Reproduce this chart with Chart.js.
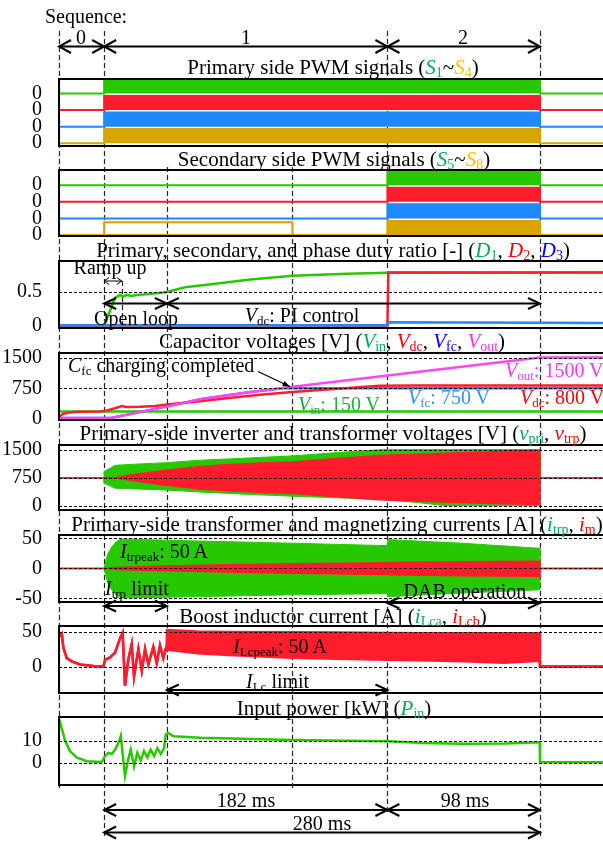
<!DOCTYPE html>
<html>
<head>
<meta charset="utf-8">
<title>Start-up sequence waveforms</title>
<script src="https://cdn.jsdelivr.net/npm/chart.js@4.4.1/dist/chart.umd.min.js"></script>
<style>
  html, body { margin: 0; padding: 0; background: #fff; }
  #fig { position: relative; width: 603px; height: 841px; overflow: hidden;
         font-family: "Liberation Serif", "Times New Roman", serif; color: #000; }
  #fig canvas { position: absolute; left: 0; }
  .t { position: absolute; z-index: 3; white-space: nowrap; font-size: 20px; line-height: 1;
       transform: translate(-50%, -50%); }
  .t.l { transform: translate(0, -50%); }
  .t.h { font-size: 21px; }
  .t sub { font-size: 13px; line-height: 0; vertical-align: -3px; }
  .t.h sub { font-size: 14px; }
  .g { color: #00b050; } .y { color: #ffc000; } .r { color: #ff0000; }
  .b { color: #0000ff; } .m { color: #ff33ff; } .lb { color: #2f8fff; } .vg { color: #1fae3a; }
</style>
</head>
<body>
<div id="fig">
  <canvas id="under" width="603" height="841" style="top:0;z-index:0"></canvas>
  <canvas id="over" width="603" height="841" style="top:0;z-index:2"></canvas>

  <div class="t" style="left:86px;top:16px">Sequence:</div>
  <div class="t" style="left:81px;top:37px">0</div>
  <div class="t" style="left:246px;top:37px">1</div>
  <div class="t" style="left:463px;top:37px">2</div>

  <div class="t h" style="left:333px;top:67px">Primary side PWM signals (<i class="g">S</i><sub class="g">1</sub>~<i class="y">S</i><sub class="y">4</sub>)</div>
  <div class="t h" style="left:334px;top:159px">Secondary side PWM signals (<i class="g">S</i><sub class="g">5</sub>~<i class="y">S</i><sub class="y">8</sub>)</div>
  <div class="t h" style="left:333px;top:250px">Primary, secondary, and phase duty ratio [-] (<i class="g">D</i><sub class="g">1</sub>, <i class="r">D</i><sub class="r">2</sub>, <i class="b">D</i><sub class="b">3</sub>)</div>
  <div class="t h" style="left:332px;top:341px">Capacitor voltages [V] (<i class="g">V</i><sub class="g">in</sub>, <i class="r">V</i><sub class="r">dc</sub>, <i class="b">V</i><sub class="b">fc</sub>, <i class="m">V</i><sub class="m">out</sub>)</div>
  <div class="t h" style="left:333px;top:433px">Primary-side inverter and transformer voltages [V] (<i class="g">v</i><sub class="g">pri</sub>, <i class="r">v</i><sub class="r">trp</sub>)</div>
  <div class="t h" style="left:337px;top:524px">Primary-side transformer and magnetizing currents [A] (<i class="g">i</i><sub class="g">trp</sub>, <i class="r">i</i><sub class="r">m</sub>)</div>
  <div class="t h" style="left:333px;top:616px">Boost inductor current [A] (<i class="g">i</i><sub class="g">Lca</sub>, <i class="r">i</i><sub class="r">Lcb</sub>)</div>
  <div class="t h" style="left:334px;top:708px">Input power [kW] (<i class="g">P</i><sub class="g">in</sub>)</div>

  <div class="t" style="left:110px;top:267px">Ramp up</div>
  <div class="t" style="left:136px;top:318px">Open loop</div>
  <div class="t" style="left:302px;top:315px"><i>V</i><sub>dc</sub>: PI control</div>

  <div class="t l" style="left:68px;top:365px"><i>C</i><sub>fc</sub> charging completed</div>
  <div class="t l m" style="left:505px;top:370px"><i>V</i><sub>out</sub>: 1500 V</div>
  <div class="t l lb" style="left:408px;top:397px"><i>V</i><sub>fc</sub>: 750 V</div>
  <div class="t l r" style="left:520px;top:397px"><i>V</i><sub>dc</sub>: 800 V</div>
  <div class="t l vg" style="left:298px;top:404px"><i>V</i><sub>in</sub>: 150 V</div>

  <div class="t l" style="left:120px;top:551px"><i>I</i><sub>trpeak</sub>: 50 A</div>
  <div class="t l" style="left:105px;top:588px"><i>I</i><sub>trp</sub> limit</div>
  <div class="t" style="left:465px;top:591px">DAB operation</div>

  <div class="t l" style="left:233px;top:646px"><i>I</i><sub>Lcpeak</sub>: 50 A</div>
  <div class="t l" style="left:246px;top:681px"><i>I</i><sub>Lc</sub> limit</div>

  <div class="t" style="left:246px;top:800px">182 ms</div>
  <div class="t" style="left:465px;top:800px">98 ms</div>
  <div class="t" style="left:322px;top:823px">280 ms</div>
</div>

<script>
// time axis in ms, 0 = start of sequence 1
const T_MIN = -29, T_MAX = 320.5;
const seqBounds = [-29, 0, 182, 280];
const rampEnd = 11.3;      // end of ramp up
const piStart = 40.3;      // open loop -> Vdc PI control
const cfcDone = 121;       // Cfc charging completed

// PWM envelopes (1 = switching / high)
const priPwmTime = [-29, 0, 0, 280, 280, 320.5];
const priPwmOn   = [0, 0, 1, 1, 0, 0];
const secPwmTime = [-29, 182, 182, 280, 280, 320.5];
const secPwmOn   = [0, 0, 1, 1, 0, 0];
const s8Time     = [-29, 0, 0, 121, 121, 320.5];
const s8Level    = [0, 0, 1, 1, 0, 0];

// duty ratios
const d1Time = [-29, 0, 3.5, 7, 10.2, 12.3, 14.4, 17.6, 20.8, 25, 33.6, 40.3, 52, 71.5, 94, 121, 155.7, 182, 320.5];
const d1     = [0, 0, 0.2, 0.41, 0.455, 0.43, 0.455, 0.44, 0.455, 0.46, 0.48, 0.5, 0.57, 0.62, 0.685, 0.74, 0.77, 0.785, 0.79];
const d2Time = [-29, 182, 182.6, 320.5];
const d2     = [0, 0, 0.79, 0.79];
const d3Time = [-29, 182, 183, 230, 280, 320.5];
const d3     = [0.005, 0.005, 0.05, 0.045, 0.04, 0.037];

// capacitor voltages [V]
const vinTime  = [-29, 320.5];
const vin      = [180, 180];
const vdcTime  = [-29, -28, -26.5, -23.5, -17, -2.5, 1.3, 7, 11.5, 14, 23, 33, 40.5, 61.6, 80, 100, 121, 150, 177, 200, 280, 320.5];
const vdc      = [30, 80, 120, 150, 175, 180, 200, 260, 316, 293, 298, 316, 350, 430, 510, 590, 660, 740, 810, 820, 820, 815];
const vfcTime  = [-29, 4.4, 40, 61.6, 94, 115, 320.5];
const vfc      = [25, 25, 300, 480, 660, 750, 750];
const voutTime = [-29, 4.4, 40, 61.6, 94, 121, 280, 320.5];
const vout     = [25, 25, 300, 480, 660, 785, 1500, 1500];

// inverter / transformer voltage envelopes [V]
const vEnvTime  = [-29, 0, 0, 7, 20, 40, 62, 80, 100, 121, 150, 177, 200, 220, 250, 280, 280, 320.5];
const vpriUpper = [750, 750, 915, 1079, 1110, 1150, 1217, 1250, 1290, 1330, 1420, 1495, 1500, 1500, 1500, 1500, 750, 750];
const vpriLower = [750, 750, 600, 470, 450, 420, 365, 330, 290, 255, 210, 170, 90, 0, 0, 0, 750, 750];
const vtrpUpper = [750, 750, 750, 750, 840, 950, 1050, 1100, 1140, 1170, 1260, 1340, 1375, 1400, 1440, 1480, 750, 750];
const vtrpLower = [750, 750, 750, 750, 660, 550, 450, 400, 360, 330, 240, 160, 125, 100, 60, 30, 750, 750];

// transformer / magnetizing current envelopes [A]
const iEnvTime  = [-29, 0, 1, 2.5, 5, 8, 11, 40, 80, 121, 181.8, 182.3, 230, 279.8, 280, 320.5];
const itrpUpper = [0, 0, 12, 25, 36, 45, 49, 47, 44.5, 42, 38, 48, 42, 33.5, 0, 0];
const itrpLower = [0, 0, -12, -25, -36, -45, -49, -48, -46, -44, -42, -47, -41, -35.6, 0, 0];
const imUpper   = [0, 0, 0, 0.5, 1, 1.5, 2, 4, 6, 8, 9.5, 10, 11, 12, 0, 0];
const imLower   = [0, 0, 0, -0.5, -1, -1.5, -2, -4, -6, -8, -10, -10.5, -12, -13, 0, 0];

// boost inductor current [A]
const iLcTime  = [-29, -28.3, -27.2, -26.2, -24, -20.8, -15.5, -6.9, -0.5, 0.6, 3.8, 7, 10.2, 11.9, 13.4, 15.5, 17.7, 19.2, 22, 24.2, 26.3, 28.4, 31.6, 33.8, 35.9, 38, 40.2, 40.4, 60, 80, 121, 150, 182, 210, 232, 257, 279.8, 280, 320.5];
const iLcUpper = [42, 44.6, 47, 27, 12, 7.4, 3, 0.8, 0, 9.6, 13, 20, 40, 48, -27.6, 9.6, 32, -14.5, 25, -5.7, 25, 3, 28, 5, 30, 12, 30, 52, 50, 49.5, 49, 48.5, 48, 47.5, 47.5, 47.5, 47.5, 0, 0];
const iLcLower = [42, 44.6, 47, 27, 12, 7.4, 3, 0.8, 0, 9.6, 13, 20, 40, 48, -27.6, 9.6, 32, -14.5, 25, -5.7, 25, 3, 28, 5, 30, 12, 30, 24, 19, 16.5, 12.6, 11, 9.6, 8.5, 7.4, 5.3, 8.3, 0, 0];

// input power [kW]
const pinTime = [-29, -28.3, -27.2, -25.1, -21.9, -17.6, -11.2, -1.5, 0.6, 2.7, 4.9, 7, 9.8, 10.7, 13.4, 15.5, 17.1, 19.2, 21.3, 23.5, 25.6, 27.8, 29.9, 32.1, 34.2, 36.4, 38.5, 39.6, 41.2, 44.5, 61.6, 121, 182, 205, 230, 257, 279.8, 280, 320.5];
const pinKW   = [17, 18.1, 15.4, 10, 5.2, 2.5, 0.8, 0.4, 3.1, 4.5, 4, 5.9, 10, 12.1, -5.8, 1.8, 6, -1.6, 4.5, 1.2, 5.3, 2.5, 6, 3.1, 6.7, 4, 6.7, 12.7, 13.4, 12, 11.3, 10.3, 9.7, 8.9, 8.6, 8.7, 9.3, 0.3, 0.3];

const COL = { green: '#28c800', red: '#ff1c2c', blue: '#1e88ff', gold: '#d8a500', magenta: '#ff44ff' };
const SERIF = '"Liberation Serif", "Times New Roman", serif';
const PAD = 16;
const LANE_HIGH = 0.85;
const fig = document.getElementById('fig');

function pts(times, vals, f) {
  return times.map((t, i) => ({ x: t, y: f ? f(vals[i]) : vals[i] }));
}
function line(color, width, data, extra) {
  return Object.assign({ data, borderColor: color, backgroundColor: color, borderWidth: width, fill: false }, extra || {});
}

const framePlugin = {
  id: 'frame',
  afterDatasetsDraw(chart, args, opts) {
    const { ctx, chartArea: a, scales: { y } } = chart;
    ctx.save();
    ctx.strokeStyle = '#000';
    ctx.lineWidth = 1;
    ctx.setLineDash([3, 2]);
    (opts.grids || []).forEach(v => {
      const py = Math.round(y.getPixelForValue(v)) + 0.5;
      ctx.beginPath(); ctx.moveTo(a.left, py); ctx.lineTo(a.right, py); ctx.stroke();
    });
    ctx.setLineDash([]);
    ctx.lineWidth = 2;
    ctx.beginPath();
    ctx.moveTo(a.right, a.top); ctx.lineTo(a.left, a.top);
    ctx.lineTo(a.left, a.bottom); ctx.lineTo(a.right, a.bottom);
    ctx.stroke();
    ctx.restore();
  }
};

function panel(top, bottom, yMin, yMax, tickVals, label, grids, datasets) {
  const cv = document.createElement('canvas');
  cv.width = 603;
  cv.height = (bottom - top) + 2 * PAD;
  cv.style.top = (top - PAD) + 'px';
  cv.style.zIndex = 1;
  fig.appendChild(cv);
  return new Chart(cv, {
    type: 'line',
    data: { datasets },
    options: {
      responsive: false,
      animation: false,
      devicePixelRatio: 1,
      layout: { padding: { top: PAD, bottom: PAD, left: 0, right: 0 } },
      elements: { point: { radius: 0 }, line: { tension: 0 } },
      plugins: { legend: { display: false }, tooltip: { enabled: false }, frame: { grids } },
      scales: {
        x: { type: 'linear', min: T_MIN, max: T_MAX, display: false },
        y: {
          min: yMin, max: yMax,
          grid: { display: false },
          border: { display: false },
          afterFit: s => { s.width = 59; },
          afterBuildTicks: s => { s.ticks = tickVals.map(v => ({ value: v })); },
          ticks: { autoSkip: false, padding: 9, color: '#000',
                   font: { family: SERIF, size: 20, lineHeight: 1 },
                   callback: v => label(v) }
        }
      }
    },
    plugins: [framePlugin]
  });
}

const laneColors = [COL.gold, COL.blue, COL.red, COL.green];
function pwmSets(time, on) {
  return laneColors.map((c, k) => line(c, 2, pts(time, on, v => k + v * LANE_HIGH), { fill: { value: k } }));
}

const charts = [];
// 1 primary PWM
charts.push(panel(76, 149, -0.166, 3.867, [0, 1, 2, 3], () => '0', [],
  pwmSets(priPwmTime, priPwmOn)));
// 2 secondary PWM
charts.push(panel(167, 239, -0.055, 3.918, [0, 1, 2, 3], () => '0', [],
  [line(COL.gold, 2, pts(s8Time, s8Level, v => v * 0.78))].concat(pwmSets(secPwmTime, secPwmOn))));
// 3 duty ratios
charts.push(panel(258, 331, -0.037, 0.96, [0, 0.5], v => String(v), [0.5], [
  line(COL.blue, 2.5, pts(d3Time, d3)),
  line(COL.red, 2.5, pts(d2Time, d2)),
  line(COL.green, 2.5, pts(d1Time, d1))
]));
// 4 capacitor voltages
charts.push(panel(350, 423, -27, 1613, [0, 750, 1500], v => String(v), [750, 1500], [
  line(COL.magenta, 2.5, pts(voutTime, vout)),
  line(COL.red, 2.5, pts(vdcTime, vdc)),
  line(COL.blue, 2.5, pts(vfcTime, vfc)),
  line(COL.green, 2.5, pts(vinTime, vin))
]));
// 5 inverter / transformer voltages
charts.push(panel(442, 513, -114, 1622, [0, 750, 1500], v => String(v), [0, 750, 1500], [
  line(COL.red, 1.5, pts(vEnvTime, vtrpUpper)),
  line(COL.red, 1.5, pts(vEnvTime, vtrpLower), { fill: '-1' }),
  line(COL.green, 1, pts(vEnvTime, vpriUpper)),
  line(COL.green, 1, pts(vEnvTime, vpriLower), { fill: '-1' })
]));
// 6 transformer / magnetizing currents
charts.push(panel(532, 605, -55.9, 55.7, [-50, 0, 50], v => String(v), [-50, 0, 50], [
  line(COL.red, 1.5, pts(iEnvTime, imUpper)),
  line(COL.red, 1.5, pts(iEnvTime, imLower), { fill: '-1' }),
  line(COL.green, 1, pts(iEnvTime, itrpUpper)),
  line(COL.green, 1, pts(iEnvTime, itrpLower), { fill: '-1' })
]));
// 7 boost inductor current
charts.push(panel(623, 696, -37.8, 57.9, [0, 50], v => String(v), [0, 50], [
  line(COL.red, 2.5, pts(iLcTime, iLcUpper)),
  line(COL.red, 2.5, pts(iLcTime, iLcLower), { fill: '-1' })
]));
// 8 input power
charts.push(panel(714, 788, -9.9, 20.6, [0, 10], v => String(v), [0, 10], [
  line(COL.green, 2.5, pts(pinTime, pinKW))
]));

// ---- dashed time markers and dimension arrows ----
const xs = charts[0].scales.x;
const X = t => xs.getPixelForValue(t);

const under = document.getElementById('under').getContext('2d');
under.strokeStyle = '#222';
under.lineWidth = 1.2;
under.setLineDash([5, 3]);
[[seqBounds[0], 31, 788], [seqBounds[1], 31, 838], [piStart, 167, 788], [cfcDone, 167, 788],
 [seqBounds[2], 31, 812], [seqBounds[3], 31, 838], [rampEnd, 281, 331]].forEach(([t, y1, y2]) => {
  const x = Math.round(X(t)) + 0.5;
  under.beginPath(); under.moveTo(x, y1); under.lineTo(x, y2); under.stroke();
});

const over = document.getElementById('over').getContext('2d');
over.strokeStyle = '#000';
over.fillStyle = '#000';
function chevron(x, y, dir, len, half) {
  over.beginPath();
  over.moveTo(x + dir * len, y - half); over.lineTo(x, y); over.lineTo(x + dir * len, y + half);
  over.stroke();
}
function dim(t1, t2, y, len, half, lw) {
  const x1 = X(t1), x2 = X(t2);
  over.lineWidth = lw;
  over.beginPath(); over.moveTo(x1, y); over.lineTo(x2, y); over.stroke();
  chevron(x1, y, 1, len, half);
  chevron(x2, y, -1, len, half);
}
// sequences
dim(seqBounds[0], seqBounds[1], 46.5, 12, 6.5, 2);
dim(seqBounds[1], seqBounds[2], 46.5, 12, 6.5, 2);
dim(seqBounds[2], seqBounds[3], 46.5, 12, 6.5, 2);
// duty ratio panel
dim(0, rampEnd, 281, 5, 3.5, 1);
dim(0, piStart, 303.5, 12, 5.5, 2);
dim(piStart, seqBounds[3], 303.5, 12, 5.5, 2);
// current panels
dim(0, piStart, 606, 12, 5.5, 2);
dim(seqBounds[2], seqBounds[3], 603, 12, 5.5, 2);
dim(piStart, seqBounds[2], 690, 12, 5.5, 2);
// bottom durations
dim(0, seqBounds[2], 810, 12, 6, 2);
dim(seqBounds[2], seqBounds[3], 810, 12, 6, 2);
dim(0, seqBounds[3], 832.5, 12, 6, 2);

// Cfc charging completed pointer
const c4 = charts[3];
const tipX = c4.scales.x.getPixelForValue(119.5);
const tipY = c4.scales.y.getPixelForValue(785) + (c4.canvas.offsetTop);
const tailX = 258, tailY = 371.5;
const ang = Math.atan2(tipY - tailY, tipX - tailX);
over.lineWidth = 1.2;
over.beginPath(); over.moveTo(tailX, tailY); over.lineTo(tipX, tipY); over.stroke();
over.beginPath();
over.moveTo(tipX, tipY);
over.lineTo(tipX - 8 * Math.cos(ang - 0.35), tipY - 8 * Math.sin(ang - 0.35));
over.lineTo(tipX - 8 * Math.cos(ang + 0.35), tipY - 8 * Math.sin(ang + 0.35));
over.closePath(); over.fill();
</script>
</body>
</html>
